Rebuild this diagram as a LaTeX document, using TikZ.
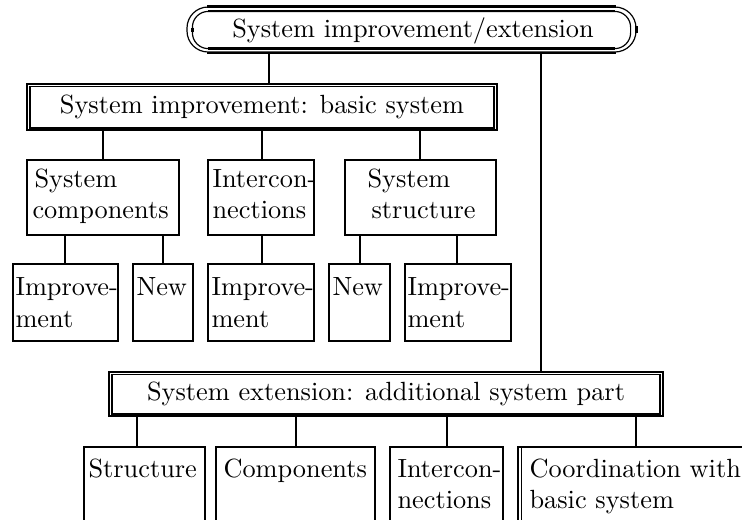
\documentclass[tikz,border=0pt]{standalone}
\usetikzlibrary{fit}
\begin{document}
\begin{tikzpicture}[x=0.38pt,y=-0.38pt,
  box/.style={draw, line width=0.9pt, inner sep=0pt},
  dbox/.style={draw, line width=1pt, inner sep=0pt},
  inline/.style={line width=0.6pt},
  conn/.style={line width=0.85pt},
  txt/.style={anchor=base west, inner sep=0pt},
  ctxt/.style={anchor=base, inner sep=0pt}]
\useasboundingbox (0,0) rectangle (742,519);
\clip (0,0) rectangle (742,519);

% top node
\node[draw, line width=0.45pt, rounded corners=8pt, inner sep=0pt, fit={(187,7) (636,52)}] (T) {};
\draw[line width=0.45pt, rounded corners=6pt] ([shift={(6,5)}]T.north west) rectangle ([shift={(-6,-4)}]T.south east);
\draw[line width=1.2pt] ([xshift=8pt]T.north west) -- ([xshift=-8pt]T.north east);
\draw[line width=0.8pt] ([shift={(22,5)}]T.north west) -- ([shift={(-22,5)}]T.north east);
\draw[line width=0.9pt] ([shift={(22,-4)}]T.south west) -- ([shift={(-22,-4)}]T.south east);
\draw[line width=0.7pt] ([xshift=8pt]T.south west) -- ([xshift=-8pt]T.south east);
\draw[line width=1.1pt] ([shift={(6,-2)}]T.west) -- ([shift={(6,2)}]T.west);
\draw[line width=1.1pt] ([yshift=-1.2pt]T.east) -- ([yshift=1.2pt]T.east);
\node[ctxt] (Tt) at (413,37) {System improvement/extension};

% basic system
\node[dbox, fit={(27,84) (497,130)}] (B) {};
\draw[inline] ([shift={(4.5,4)}]B.north west) rectangle ([shift={(-4.5,-3.5)}]B.south east);
\node[ctxt] (Bt) at (262,113) {System improvement: basic system};
\draw[conn] (269,0 |- T.south) -- (269,0 |- B.north);

% level 2
\node[box, fit={(27,160) (179,235)}] (C1) {};
\node[box, fit={(208,160) (314,235)}] (C2) {};
\node[box, fit={(345,160) (496,235)}] (C3) {};
\node[txt] (C1a) at (34,187) {System};
\node[txt] (C1b) at (32,218) {components};
\node[txt] (C2a) at (212,187) {Intercon-};
\node[txt] (C2b) at (212,218) {nections};
\node[txt] (C3a) at (367,187) {System};
\node[txt] (C3b) at (371,218) {structure};
\draw[conn] (103,0 |- B.south) -- (103,0 |- C1.north);
\draw[conn] (262,0 |- B.south) -- (262,0 |- C2.north);
\draw[conn] (420,0 |- B.south) -- (420,0 |- C3.north);

% leaves
\node[box, fit={(13,264) (118,341)}] (L1) {};
\node[box, fit={(133,264) (193,341)}] (L2) {};
\node[box, fit={(208,264) (314,341)}] (L3) {};
\node[box, fit={(329,264) (390,341)}] (L4) {};
\node[box, fit={(405,264) (511,341)}] (L5) {};
\node[txt] (L1a) at (15,295) {Improve-};
\node[txt] (L1b) at (15,327) {ment};
\node[txt] (L2a) at (136,295) {New};
\node[txt] (L3a) at (211,295) {Improve-};
\node[txt] (L3b) at (211,327) {ment};
\node[txt] (L4a) at (332,295) {New};
\node[txt] (L5a) at (407,295) {Improve-};
\node[txt] (L5b) at (407,327) {ment};
\draw[conn] (65,0 |- C1.south) -- (65,0 |- L1.north);
\draw[conn] (163,0 |- C1.south) -- (163,0 |- L2.north);
\draw[conn] (262,0 |- C2.south) -- (262,0 |- L3.north);
\draw[conn] (360,0 |- C3.south) -- (360,0 |- L4.north);
\draw[conn] (457,0 |- C3.south) -- (457,0 |- L5.north);

% extension
\node[dbox, fit={(109,372) (663,416)}] (E) {};
\draw[inline] ([shift={(4.5,4)}]E.north west) rectangle ([shift={(-4.5,-3.5)}]E.south east);
\node[ctxt] (Et) at (386,400) {System extension: additional system part};
\draw[conn, line width=1pt] (541,0 |- T.south) -- (541,0 |- E.north);

\node[box, line width=0.75pt, fit={(84,447) (205,560)}] (D1) {};
\node[box, line width=0.75pt, fit={(216,447) (375,560)}] (D2) {};
\node[box, line width=0.75pt, fit={(390,447) (503,560)}] (D3) {};
\node[box, line width=0.75pt, fit={(518,447) (780,560)}] (D4) {};
\draw[line width=0.7pt] ([shift={(4.5,2)}]D4.north west) -- ([shift={(4.5,0)}]D4.south west);
\node[txt] (D1a) at (88,477) {Structure};
\node[txt] (D2a) at (223,477) {Components};
\node[txt] (D3a) at (397,477) {Intercon-};
\node[txt] (D3b) at (397,508) {nections};
\node[txt] (D4a) at (529,477) {Coordination with};
\node[txt] (D4b) at (529,508) {basic system};
\draw[conn, line width=0.75pt] (137,0 |- E.south) -- (137,0 |- D1.north);
\draw[conn, line width=0.75pt] (296,0 |- E.south) -- (296,0 |- D2.north);
\draw[conn, line width=0.75pt] (447,0 |- E.south) -- (447,0 |- D3.north);
\draw[conn, line width=0.75pt] (636,0 |- E.south) -- (636,0 |- D4.north);
\end{tikzpicture}
\end{document}
